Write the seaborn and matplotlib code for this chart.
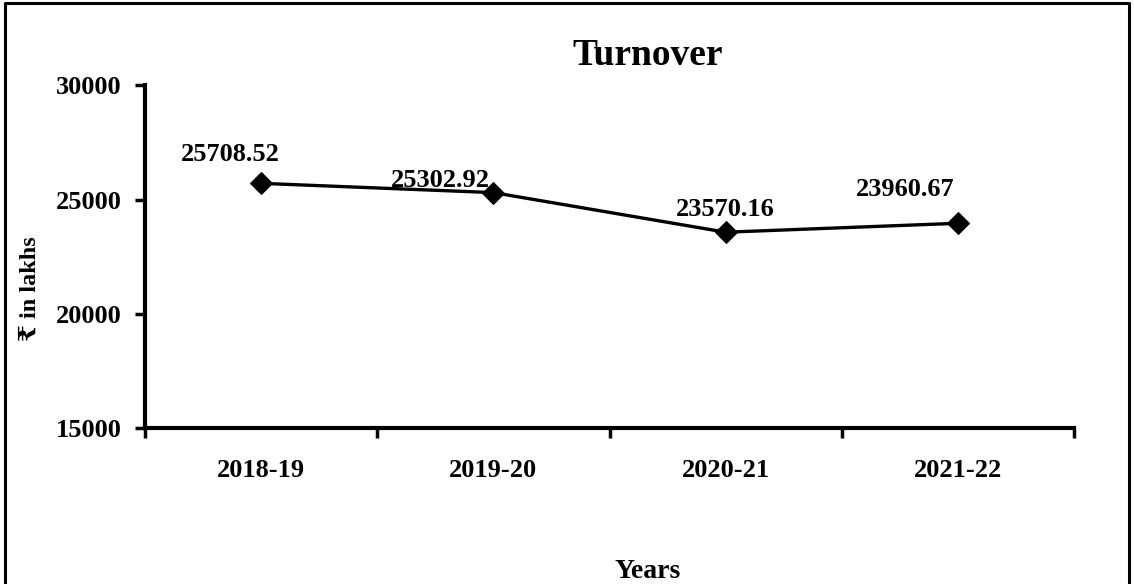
import numpy as np
import pandas as pd
import matplotlib.pyplot as plt
import seaborn as sns
from matplotlib.lines import Line2D

# --- data ---
years = ["2018-19", "2019-20", "2020-21", "2021-22"]
turnover = [25708.52, 25302.92, 23570.16, 23960.67]
y_ticks = [15000, 20000, 25000, 30000]
# label offsets (points) so the numbers sit where they do in the original
label_dx = [-22, -38, 0, -38]
label_dy = [21, 9, 16, 24]

df = pd.DataFrame({"Years": years, "Turnover": turnover})

sns.set_theme(style="white")
plt.rcParams['font.family'] = ['Liberation Serif', 'DejaVu Serif', 'DejaVu Sans']
plt.rcParams['font.weight'] = 'bold'
plt.rcParams['text.color'] = 'black'
plt.rcParams['xtick.color'] = 'black'
plt.rcParams['ytick.color'] = 'black'

fig = plt.figure(figsize=(11.34, 5.84), dpi=100)
ax = fig.add_axes([0.128, 0.267, 0.819, 0.587])

pos = np.arange(len(years))
sns.lineplot(x=pos, y=df["Turnover"], ax=ax, color="black", linewidth=2.4,
             marker="D", markersize=11.5, markeredgecolor="black", markerfacecolor="black")

for i, v in enumerate(turnover):
    ax.annotate(f"{v:.2f}", (pos[i], v), xytext=(label_dx[i], label_dy[i]),
                textcoords="offset points", ha="center", va="center",
                fontsize=19, fontweight="bold", color="black")

ax.set_ylim(15000, 30000)
ax.set_yticks(y_ticks)
ax.set_yticklabels([str(t) for t in y_ticks], fontsize=19, fontweight="bold")

ax.set_xlim(-0.5, len(years) - 0.5)
ax.set_xticks(np.arange(-0.5, len(years), 1.0))
ax.set_xticklabels([])
ax.set_xticks(pos, minor=True)
ax.set_xticklabels(years, minor=True, fontsize=19, fontweight="bold")
ax.tick_params(axis="x", which="minor", length=0, pad=22)
ax.tick_params(axis="both", which="major", direction="out", length=7, width=2.5,
               color="black", left=True, bottom=True)
ax.tick_params(axis="y", pad=10)

for s in ["top", "right"]:
    ax.spines[s].set_visible(False)
for s in ["left", "bottom"]:
    ax.spines[s].set_color("black")
    ax.spines[s].set_linewidth(3)

ax.set_xlabel("")
ax.set_ylabel("")
fig.text(0.571, 0.905, "Turnover", ha="center", va="center", fontsize=27, fontweight="bold")
fig.text(0.571, 0.022, "Years", ha="center", va="center", fontsize=20, fontweight="bold")
fig.text(0.027, 0.505, "₹ in lakhs", ha="center", va="center", rotation=90,
         fontsize=17.5, fontweight="bold")

# frame around the chart: left, top and right only (cut off at the bottom)
fig.lines.append(Line2D([0.004, 0.004, 0.996, 0.996], [0.0, 0.995, 0.995, 0.0],
                        transform=fig.transFigure, color="black", linewidth=2.2))

fig.savefig("out.png", dpi=100)
